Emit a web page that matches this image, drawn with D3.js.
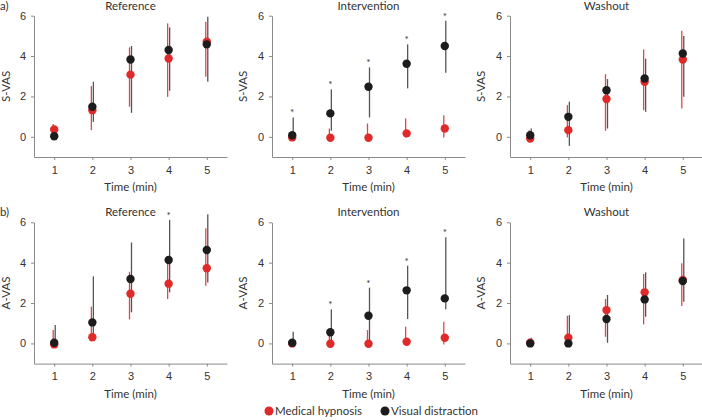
<!DOCTYPE html>
<html>
<head>
<meta charset="utf-8">
<title>S-VAS / A-VAS</title>
<script src="https://d3js.org/d3.v7.min.js"></script>
<style>
  body { margin: 0; background: #fff; }
  svg { font-family: Lato, "Open Sans", sans-serif; }
  .axis path, .axis line { stroke: #8a8a8a; }
  .axis text { fill: #333; font-size: 11px; }
</style>
</head>
<body>
<svg width="702" height="420"></svg>
<script>
var times = [1, 2, 3, 4, 5];
var phases = ["Reference", "Intervention", "Washout"];
var rowLabels = ["a)", "b)"];
var rowMeasures = ["S-VAS", "A-VAS"];
var seriesNames = ["Medical hypnosis", "Visual distraction"];

// [mean, lower, upper] per time point
var sRefHyp = [[0.36, 0.1, 0.63], [1.32, 0.33, 2.51], [3.08, 1.49, 4.43], [3.88, 1.98, 5.62], [4.71, 2.98, 5.7]];
var sRefVis = [[0.03, -0.05, 0.15], [1.49, 0.74, 2.73], [3.83, 1.19, 4.5], [4.3, 2.28, 5.42], [4.58, 2.73, 5.95]];
var sIntHyp = [[-0.03, -0.05, 0.1], [-0.05, -0.05, 0.41], [-0.05, -0.05, 0.66], [0.17, -0.03, 0.91], [0.41, -0.03, 1.07]];
var sIntVis = [[0.08, -0.05, 0.96], [1.16, 0.3, 2.35], [2.48, 0.96, 3.44], [3.62, 2.4, 4.58], [4.5, 3.17, 5.75]];
var sWasHyp = [[-0.08, -0.15, 0.33], [0.33, -0.03, 1.57], [1.87, 0.3, 3.1], [2.73, 1.32, 4.33], [3.83, 1.4, 5.26]];
var sWasVis = [[0.08, -0.1, 0.41], [0.99, -0.45, 1.74], [2.31, 0.41, 2.86], [2.89, 1.24, 3.87], [4.13, 1.98, 4.99]];

var aRefHyp = [[-0.05, -0.1, 0.66], [0.31, 0.1, 1.82], [2.46, 1.19, 3.55], [2.96, 2.2, 4.02], [3.72, 2.86, 5.7]];
var aRefVis = [[0.03, -0.1, 0.91], [1.04, 0.2, 3.32], [3.19, 1.54, 5.0], [4.13, 2.53, 6.12], [4.63, 3.02, 6.4]];
var aIntHyp = [[0, -0.03, 0.05], [-0.02, -0.05, 0.55], [-0.02, -0.05, 0.66], [0.08, -0.03, 0.83], [0.28, -0.05, 1.07]];
var aIntVis = [[0.03, -0.03, 0.58], [0.55, 0, 1.69], [1.37, 0.08, 2.76], [2.63, 1.21, 3.85], [2.23, 1.69, 5.26]];
var aWasHyp = [[0.03, -0.03, 0.1], [0.28, -0.1, 1.37], [1.65, 0.33, 2.2], [2.53, 0.94, 3.44], [3.14, 1.85, 3.97]];
var aWasVis = [[0, -0.03, 0.28], [0, -0.03, 1.4], [1.21, 0.03, 2.4], [2.18, 1.32, 3.52], [3.09, 2.07, 5.2]];

// significance markers (1 = asterisk)
var sRefSig = [0, 0, 0, 0, 0];
var sIntSig = [1, 1, 1, 1, 1];
var sWasSig = [0, 0, 0, 0, 0];
var aRefSig = [0, 0, 0, 1, 0];
var aIntSig = [0, 1, 1, 1, 1];
var aWasSig = [0, 0, 0, 0, 0];

var yTicks = [0, 2, 4, 6];

var panels = [
  [[sRefHyp, sRefVis, sRefSig], [sIntHyp, sIntVis, sIntSig], [sWasHyp, sWasVis, sWasSig]],
  [[aRefHyp, aRefVis, aRefSig], [aIntHyp, aIntVis, aIntSig], [aWasHyp, aWasVis, aWasSig]]
];

var colHyp = "#e02a2a", colVis = "#1c1c1c";
var barHyp = "#e04848", barVis = "#555";

var svg = d3.select("svg");
var colX = [34, 272, 510];
var rowY = [15.7, 222.3];
var plotH = 141.3, plotW = 193;

var x = d3.scaleLinear().domain([0.47, 5.53]).range([0, plotW]);
var y = d3.scaleLinear().domain([-1, 6]).range([plotH, 0]);

rowLabels.forEach(function(lab, r) {
  svg.append("text").attr("x", 0).attr("y", rowY[r] - 6)
    .attr("font-size", 11.5).attr("fill", "#333").text(lab);

  phases.forEach(function(ph, c) {
    var g = svg.append("g").attr("transform", "translate(" + colX[c] + "," + rowY[r] + ")");
    var hyp = panels[r][c][0], vis = panels[r][c][1], sig = panels[r][c][2];

    g.append("g").attr("class", "axis")
      .call(d3.axisLeft(y).tickValues(yTicks).tickFormat(d3.format("d"))
        .tickSize(3).tickSizeOuter(0).tickPadding(5));
    g.append("g").attr("class", "axis")
      .attr("transform", "translate(0," + plotH + ")")
      .call(d3.axisBottom(x).tickValues(times).tickFormat(d3.format("d"))
        .tickSize(3).tickSizeOuter(0).tickPadding(6));

    g.append("text").attr("x", x(3)).attr("y", -6)
      .attr("text-anchor", "middle").attr("font-size", 11.5).attr("fill", "#333").text(ph);
    g.append("text").attr("x", x(3)).attr("y", plotH + 34)
      .attr("text-anchor", "middle").attr("font-size", 11.5).attr("fill", "#333").text("Time (min)");
    g.append("text")
      .attr("transform", "translate(" + Math.max(-29, 6 - colX[c]) + "," + y(2.5) + ") rotate(-90)")
      .attr("text-anchor", "middle").attr("dy", "0.35em")
      .attr("font-size", 11.5).attr("fill", "#333").text(rowMeasures[r]);

    // error bars
    g.selectAll(".ebh").data(hyp).enter().append("line")
      .attr("x1", function(d, i) { return x(times[i]) - 1; })
      .attr("x2", function(d, i) { return x(times[i]) - 1; })
      .attr("y1", function(d) { return y(d[1]); })
      .attr("y2", function(d) { return y(d[2]); })
      .attr("stroke", barHyp).attr("stroke-width", 1.3);
    g.selectAll(".ebv").data(vis).enter().append("line")
      .attr("x1", function(d, i) { return x(times[i]) + 1; })
      .attr("x2", function(d, i) { return x(times[i]) + 1; })
      .attr("y1", function(d) { return y(d[1]); })
      .attr("y2", function(d) { return y(d[2]); })
      .attr("stroke", barVis).attr("stroke-width", 1.3);

    g.selectAll(".dh").data(hyp).enter().append("circle")
      .attr("cx", function(d, i) { return x(times[i]); })
      .attr("cy", function(d) { return y(d[0]); })
      .attr("r", 4.2).attr("fill", colHyp);
    g.selectAll(".dv").data(vis).enter().append("circle")
      .attr("cx", function(d, i) { return x(times[i]); })
      .attr("cy", function(d) { return y(d[0]); })
      .attr("r", 4.2).attr("fill", colVis);

    // asterisks above the higher whisker
    var marks = [];
    sig.forEach(function(s, i) {
      if (s) marks.push({ t: times[i], top: Math.max(hyp[i][2], vis[i][2]) });
    });
    g.selectAll(".sig").data(marks).enter().append("text")
      .attr("x", function(d) { return x(d.t); })
      .attr("y", function(d) { return y(d.top + 0.35) + 6; })
      .attr("text-anchor", "middle").attr("font-size", 10).attr("fill", "#333").text("*");
  });
});

// legend
var legend = svg.append("g").attr("transform", "translate(269,411)");
[colHyp, colVis].forEach(function(col, i) {
  var lg = legend.append("g").attr("transform", "translate(" + (i * 116) + ",0)");
  lg.append("circle").attr("r", 4.5).attr("fill", col);
  lg.append("text").attr("x", 6).attr("dy", "0.35em")
    .attr("font-size", 11.5).attr("fill", "#333").text(seriesNames[i]);
});
</script>
</body>
</html>
